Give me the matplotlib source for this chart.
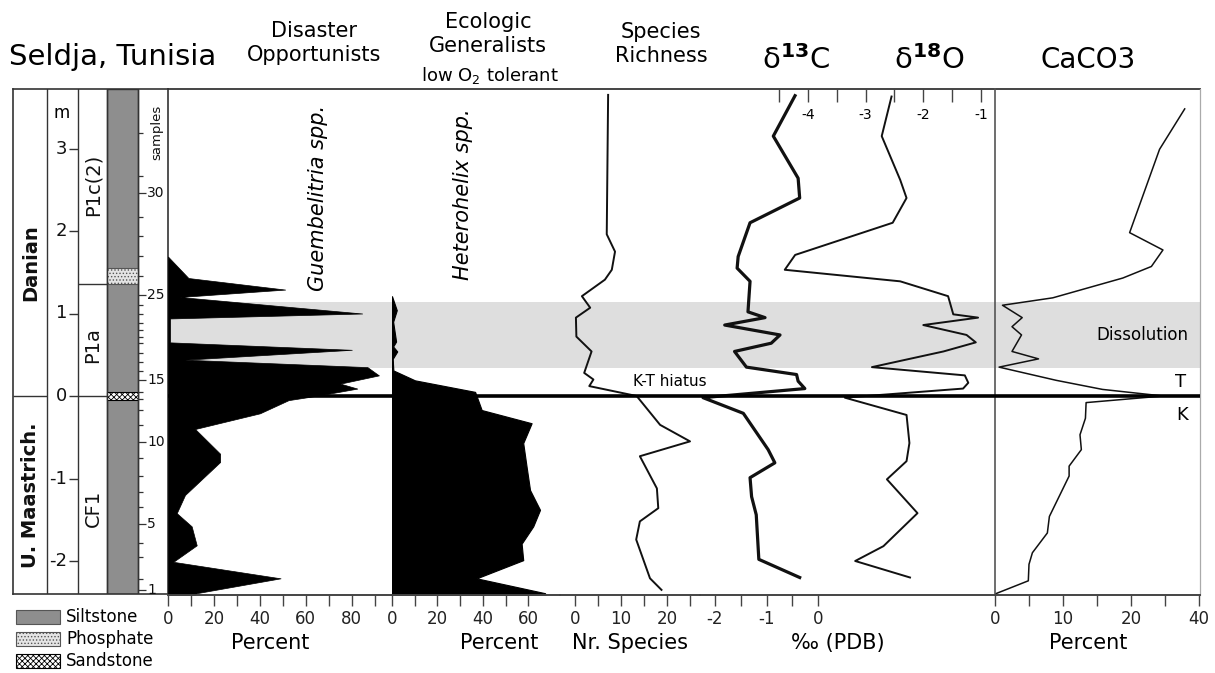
import matplotlib
matplotlib.use("Agg")
import matplotlib.pyplot as plt
from matplotlib.patches import Rectangle

plt.rcParams['font.family'] = ['DejaVu Sans']
plt.rcParams['mathtext.fontset'] = 'dejavusans'
plt.rcParams['hatch.linewidth'] = 0.6

# ---------------- data (depth in m, 0 = K-T boundary) ----------------
sample_depth = [-2.35, -2.22, -1.95, -1.78, -1.55, -1.34, -1.16, -0.97, -0.75, -0.56,
                -0.35, -0.17, -0.04, 0.05, 0.19, 0.30, 0.41, 0.52, 0.64, 0.72,
                0.80, 0.88, 0.99, 1.10, 1.22, 1.45, 1.70, 1.94, 2.17, 2.46, 2.67, 3.19]
sample_labels = [1, 5, 10, 15, 25, 30]
meters = [-2, -1, 0, 1, 2, 3]

stage_names = ['Danian', 'U. Maastrich.']
stage_mid = [1.62, -1.2]
zone_names = ['P1c(2)', 'P1a', 'CF1']
zone_mid = [2.56, 0.62, -1.36]
zone_bounds = [1.36, 0.0]
phosphate_bed = (1.36, 1.55)
sandstone_bed = (-0.05, 0.05)
dissolution = (0.34, 1.14)
kt_depth = 0.0

# Disaster opportunists (Guembelitria spp., %)
guemb_depth = [1.69, 1.43, 1.29, 1.20, 1.00, 0.94, 0.65, 0.56, 0.44, 0.35, 0.25, 0.15,
               0.09, 0.01, -0.05, -0.21, -0.40, -0.70, -0.80, -1.20, -1.42, -1.58,
               -1.81, -2.01, -2.21, -2.39, -2.45]
guemb_pct = [0, 8.9, 51, 5.2, 84.5, 0.9, 0.9, 80, 7.4, 86.8, 91.8, 75,
             82.4, 66.4, 52.5, 40, 11.8, 22.7, 22.7, 7.4, 3.8, 10.3,
             12.5, 2.3, 49, 12.5, 10]

# Ecologic generalists (Heterohelix spp., %)
hetero_depth = [1.21, 1.04, 0.90, 0.66, 0.60, 0.54, 0.45, 0.31, 0.19, 0.05, -0.17,
                -0.33, -0.57, -0.86, -1.14, -1.38, -1.58, -1.79, -1.99, -2.21, -2.39, -2.45]
hetero_pct = [0, 2.1, 0.5, 1.8, 0.5, 2.3, 0.3, 0.6, 10.1, 36.6, 39.5,
              61.5, 57.8, 59.3, 60.8, 65.2, 62.2, 57.1, 57.8, 37.3, 67.4, 68]

# Species richness
rich_depth = [3.65, 1.96, 1.75, 1.53, 1.41, 1.21, 1.07, 0.95, 0.72, 0.54, 0.28, 0.20,
              0.12, 0.00, -0.35, -0.55, -0.73, -1.12, -1.36, -1.52, -1.74, -2.21, -2.35]
rich_n = [7.2, 6.9, 8.7, 8.0, 6.5, 1.5, 3.3, 0.2, 0.3, 3.6, 2.0, 4.0,
          3.1, 13.4, 18.5, 25.0, 14.1, 17.8, 18.1, 14.1, 13.3, 16.3, 18.8]

# delta 13C (permil PDB)
c13_depth = [3.64, 3.15, 2.64, 2.40, 2.10, 1.69, 1.55, 1.39, 1.02, 0.95, 0.86, 0.74,
             0.64, 0.54, 0.35, 0.26, 0.18, 0.09, -0.02, -0.21, -0.65, -0.81, -0.99,
             -1.22, -1.44, -1.98, -2.20]
c13 = [-0.45, -0.87, -0.39, -0.36, -1.32, -1.55, -1.57, -1.32, -1.36, -1.03, -1.81, -0.74,
       -0.91, -1.62, -1.39, -0.42, -0.39, -0.26, -2.23, -1.45, -0.97, -0.84, -1.32,
       -1.29, -1.20, -1.15, -0.36]

# delta 18O (permil PDB)
o18_depth = [3.63, 3.15, 2.62, 2.40, 2.10, 1.71, 1.53, 1.39, 1.21, 0.99, 0.95, 0.86,
             0.74, 0.65, 0.54, 0.35, 0.25, 0.16, 0.09, -0.02, -0.23, -0.57, -0.79,
             -1.01, -1.42, -1.82, -2.00, -2.20]
o18 = [-2.55, -2.72, -2.40, -2.29, -2.53, -4.22, -4.40, -2.40, -1.57, -1.48, -1.05, -2.00,
       -1.25, -1.09, -1.65, -2.89, -1.28, -1.22, -1.31, -3.36, -2.29, -2.24, -2.29,
       -2.63, -2.10, -2.69, -3.18, -2.23]

# CaCO3 (%)
caco3_depth = [3.48, 2.99, 1.98, 1.77, 1.57, 1.43, 1.19, 1.10, 0.95, 0.84, 0.74, 0.54,
               0.45, 0.35, 0.19, 0.08, 0.00, -0.08, -0.27, -0.47, -0.65, -0.85, -0.97,
               -1.46, -1.66, -1.90, -2.04, -2.24, -2.40]
caco3 = [27.9, 24.2, 19.8, 24.7, 23.0, 18.8, 8.5, 1.1, 4.0, 2.5, 3.9, 2.5,
         6.4, 0.6, 9.0, 15.8, 24.7, 13.4, 13.3, 12.5, 12.7, 10.9, 10.9,
         8.0, 7.7, 5.5, 5.0, 4.9, 0.0]

# ---------------- layout helpers (pixel boxes) ----------------
W, H = 1215, 673
Y_TOP, Y_BOT, Y_ZERO, PX_M = 89, 595, 396, 82.5
D_TOP = (Y_ZERO - Y_TOP) / PX_M
D_BOT = (Y_ZERO - Y_BOT) / PX_M
AX_COL = '#444444'


def px_box(x0, x1, y0=Y_TOP, y1=Y_BOT):
    return [x0 / W, 1 - y1 / H, (x1 - x0) / W, (y1 - y0) / H]


def ftext(x, y, s, **kw):
    kw.setdefault('ha', 'center')
    kw.setdefault('va', 'center')
    fig.text(x / W, 1 - y / H, s, **kw)


def panel(x0, x1, xlim, ticks, labels):
    ax = fig.add_axes(px_box(x0, x1), facecolor='none')
    ax.set_xlim(xlim)
    ax.set_ylim(D_BOT, D_TOP)
    for s in ['left', 'right', 'top']:
        ax.spines[s].set_visible(False)
    ax.spines['bottom'].set_color(AX_COL)
    ax.spines['bottom'].set_linewidth(1.4)
    ax.set_yticks([])
    ax.set_xticks(ticks)
    ax.set_xticklabels(labels)
    ax.tick_params(axis='x', length=8, width=1, color=AX_COL, labelsize=12,
                   pad=3, labelcolor='#222222')
    return ax


fig = plt.figure(figsize=(W / 100, H / 100), dpi=100)

# background: dissolution band + top frame line
ax_bg = fig.add_axes(px_box(168, 1200))
ax_bg.set_xlim(0, 1)
ax_bg.set_ylim(D_BOT, D_TOP)
ax_bg.axhspan(dissolution[0], dissolution[1], color='#dedede', lw=0)
ax_bg.set_xticks([])
ax_bg.set_yticks([])
for s in ['left', 'right', 'bottom']:
    ax_bg.spines[s].set_visible(False)
ax_bg.spines['top'].set_color(AX_COL)
ax_bg.spines['top'].set_linewidth(1.4)

# ---------------- left columns ----------------
ax_L = fig.add_axes(px_box(13, 168, Y_TOP, 594))
ax_L.set_xlim(13, 168)
ax_L.set_ylim((Y_ZERO - 594) / PX_M, D_TOP)
ax_L.set_xticks([])
ax_L.set_yticks([])
for s in ax_L.spines.values():
    s.set_color('#333333')
    s.set_linewidth(1.2)
for xc in [47, 78, 107, 138]:
    ax_L.axvline(xc, color='#333333', lw=1.0)
ax_L.add_patch(Rectangle((107, D_BOT), 31, D_TOP - D_BOT, facecolor='#8e8e8e',
                         edgecolor='#333333', lw=1.0))
ax_L.add_patch(Rectangle((107, phosphate_bed[0]), 31, phosphate_bed[1] - phosphate_bed[0],
                         facecolor='#e4e4e4', edgecolor='#555555', hatch='.....', lw=0.8))
ax_L.add_patch(Rectangle((107, sandstone_bed[0]), 31, sandstone_bed[1] - sandstone_bed[0],
                         facecolor='white', edgecolor='black', hatch='xxxxxx', lw=0.8))
ax_L.hlines(0, 13, 47, color='#333333', lw=1.0)
ax_L.hlines(zone_bounds, 78, 107, color='#333333', lw=1.0)
for name, d in zip(stage_names, stage_mid):
    ax_L.text(31, d, name, rotation=90, ha='center', va='center', fontsize=14,
              fontweight='bold', color='#111111')
for name, d in zip(zone_names, zone_mid):
    ax_L.text(93, d, name, rotation=90, ha='center', va='center', fontsize=14,
              color='#111111')
ax_L.hlines(meters, 69, 78, color='#333333', lw=1.0)
for m in meters:
    ax_L.text(67, m, str(m), ha='right', va='center', fontsize=13, color='#111111')
ax_L.text(62, (Y_ZERO - 113) / PX_M, 'm', ha='center', va='center', fontsize=12)
for i, d in enumerate(sample_depth):
    n = i + 1
    ln = 8 if n in sample_labels else 5
    ax_L.hlines(d, 138, 138 + ln, color='#333333', lw=0.9)
    if n in sample_labels:
        ax_L.text(147, d, str(n), ha='left', va='center', fontsize=10, color='#111111')
ax_L.text(157, (Y_ZERO - 132) / PX_M, 'samples', rotation=90, ha='center',
          va='center', fontsize=9.5, color='#111111')

# ---------------- data panels ----------------
ax_dis = panel(168, 392, (0, 97.5), range(0, 100, 10),
               ['0', '', '20', '', '40', '', '60', '', '80', ''])
ax_dis.fill_betweenx(guemb_depth, 0, guemb_pct, facecolor='black',
                     edgecolor='black', lw=0.5)

ax_het = panel(392, 560, (0, 74.0), range(0, 70, 10),
               ['0', '', '20', '', '40', '', '60'])
ax_het.fill_betweenx(hetero_depth, 0, hetero_pct, facecolor='black',
                     edgecolor='black', lw=0.8)

ax_sp = panel(560, 700, (-3.26, 27.17), range(0, 30, 5),
              ['0', '', '10', '', '20', ''])
ax_sp.plot(rich_n, rich_depth, color='#111111', lw=1.4)

ax_c = panel(700, 995, (-2.288, 3.418), [-2, -1.5, -1, -0.5, 0],
             ['-2', '', '-1', '', '0'])
ax_c.plot(c13, c13_depth, color='#111111', lw=2.3)

ax_o = fig.add_axes(px_box(700, 995), facecolor='none')
ax_o.set_xlim(-5.869, -0.757)
ax_o.set_ylim(D_BOT, D_TOP)
ax_o.set_yticks([])
for s in ax_o.spines.values():
    s.set_visible(False)
ax_o.xaxis.set_ticks_position('top')
ax_o.set_xticks([-4.5, -4, -3.5, -3, -2.5, -2, -1.5, -1])
ax_o.set_xticklabels(['', '-4', '', '-3', '', '-2', '', '-1'])
ax_o.tick_params(axis='x', direction='in', length=9, width=1, color=AX_COL,
                 labelsize=10, pad=-24)
ax_o.plot(o18, o18_depth, color='#111111', lw=1.4)

ax_ca = panel(995, 1200, (0, 30.15), range(0, 35, 5),
              ['0', '', '10', '', '20', '', '40'])
ax_ca.spines['left'].set_visible(True)
ax_ca.spines['left'].set_color('#555555')
ax_ca.spines['left'].set_linewidth(1.2)
ax_ca.spines['right'].set_visible(True)
ax_ca.spines['right'].set_color('#aaaaaa')
ax_ca.spines['right'].set_linewidth(0.9)
ax_ca.plot(caco3, caco3_depth, color='#111111', lw=1.1)

# ---------------- overlay: K-T line and annotations ----------------
ax_top = fig.add_axes(px_box(168, 1200), facecolor='none')
ax_top.set_xlim(168, 1200)
ax_top.set_ylim(D_BOT, D_TOP)
ax_top.axis('off')
ax_top.axhline(kt_depth, color='black', lw=2.6)
ax_top.text(670, 0.17, 'K-T hiatus', ha='center', va='center', fontsize=11)
ax_top.text(1142, 0.74, 'Dissolution', ha='center', va='center', fontsize=12)
ax_top.text(1181, 0.17, 'T', ha='center', va='center', fontsize=13)
ax_top.text(1182, -0.23, 'K', ha='center', va='center', fontsize=13)
ax_top.text(318, 2.4, 'Guembelitria spp.', rotation=90, ha='center', va='center',
            fontsize=15, style='italic')
ax_top.text(463, 2.45, 'Heterohelix spp.', rotation=90, ha='center', va='center',
            fontsize=15, style='italic')

# ---------------- titles ----------------
ftext(113, 57, 'Seldja, Tunisia', fontsize=21)
ftext(314, 43, 'Disaster\nOpportunists', fontsize=15, linespacing=1.25)
ftext(488, 34, 'Ecologic\nGeneralists', fontsize=15, linespacing=1.2)
ftext(490, 75, 'low O$_2$ tolerant', fontsize=13)
ftext(661, 44, 'Species\nRichness', fontsize=15, linespacing=1.25)
ftext(796, 60, r'δ$^{\mathbf{13}}$C', fontsize=21)
ftext(929, 60, r'δ$^{\mathbf{18}}$O', fontsize=21)
ftext(1088, 60, 'CaCO3', fontsize=20)

# bottom axis titles
ftext(270, 643, 'Percent', fontsize=15)
ftext(499, 643, 'Percent', fontsize=15)
ftext(630, 643, 'Nr. Species', fontsize=15)
ftext(838, 643, '‰ (PDB)', fontsize=15)
ftext(1088, 643, 'Percent', fontsize=15)

# lithology legend
legend_items = [('Siltstone', '#8e8e8e', None, '#555555'),
                ('Phosphate', '#e4e4e4', '.....', '#555555'),
                ('Sandstone', 'white', 'xxxxxx', 'black')]
for k, (name, fc, hatch, ec) in enumerate(legend_items):
    yc = 617 + 22 * k
    fig.patches.append(Rectangle((16 / W, 1 - (yc + 7) / H), 44 / W, 14 / H,
                                 transform=fig.transFigure, facecolor=fc,
                                 edgecolor=ec, hatch=hatch, lw=0.8))
    ftext(66, yc, name, fontsize=12, ha='left')

fig.savefig('out.png', dpi=100)
